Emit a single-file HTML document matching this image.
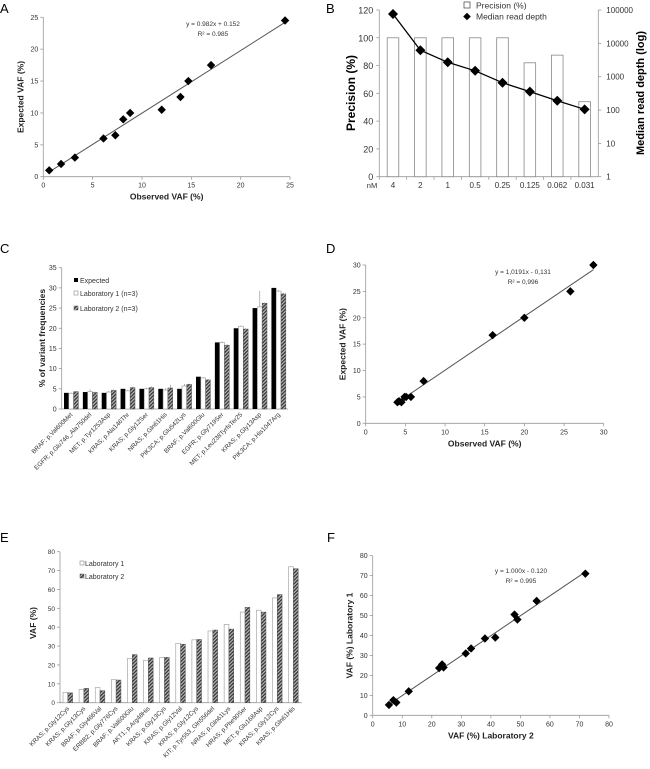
<!DOCTYPE html>
<html><head><meta charset="utf-8"><style>
html,body{margin:0;padding:0;background:#fff;}
svg{display:block;font-family:"Liberation Sans",Arial,sans-serif;}
</style></head><body>
<svg id="fig" width="650" height="769" viewBox="0 0 650 769">
<defs>
<pattern id="hatch" width="2.5" height="2.5" patternUnits="userSpaceOnUse" patternTransform="rotate(45)">
<rect width="2.5" height="2.5" fill="#bbb"/><rect width="1.3" height="2.5" fill="#333"/>
</pattern>
</defs>
</svg>
<script>
// Panel A data
const aObs = [0.6,1.8,3.2,6.1,7.3,8.1,8.8,12,13.9,14.7,17,24.5];
const aExp = [1,2,3,6,6.5,9,10,10.5,12.5,15,17.5,24.5];
const aTicks = [0,5,10,15,20,25];
// Panel B data
const bCats = ['4','2','1','0.5','0.25','0.125','0.062','0.031'];
const bPrecision = [100,100,100,100,100,82,87.5,54];
const bDepth = [76000,6200,2700,1500,660,355,190,105];
const bLeftTicks = [0,20,40,60,80,100,120];
const bRightTicks = [1,10,100,1000,10000,100000];
// Panel C data
const cCats = ['BRAF; p.Val600Met','EGFR; p.Glu746_Ala750del','MET; p.Tyr1253Asp','KRAS; p.Ala146Thr','KRAS; p.Gly12Ser','NRAS; p.Gln61His','PIK3CA; p.Glu542Lys','BRAF; p.Val600Glu','EGFR; p.Gly719Ser','MET; p.Leu238TyrfsTer25','KRAS; p.Gly13Asp','PIK3CA; p.His1047Arg'];
const cExpected = [4,4.2,4,5,5,5,5,8,16.5,20,25,30];
const cLab1 = [3.9,4.3,4.2,4.5,5,4.7,5.7,7.7,16.5,20.5,25.3,29.2];
const cLab1Err = [0.2,0.6,0.3,0.2,0.3,0.5,0.5,0.2,0.3,0.2,4,0.3];
const cLab2 = [4.3,4.1,4.6,5.3,5.3,5.2,6.1,7.2,15.8,19.8,26.2,28.5];
const cLab2Err = [0.2,0.2,0.3,0.2,0.3,0.8,0.2,0.2,0.2,0.2,0.2,0.3];
const cTicks = [0,5,10,15,20,25,30,35];
// Panel D data
const dObs = [4,4.2,4.5,4.9,5.1,5.7,7.3,16,20,25.8,28.7];
const dExp = [4,4.2,4,5,5,5,8,16.7,20,25,30];
const dTicks = [0,5,10,15,20,25,30];
// Panel E data
const eCats = ['KRAS; p.Gly12Cys','KRAS; p.Gly13Cys','BRAF; p.Gly466Val','ERBB2; p.Gly776Cys','BRAF; p.Val600Glu','AKT1; p.Arg48His','KRAS; p.Gly13Cys','KRAS; p.Gly12Val','KRAS; p.Gly12Cys','KIT; p.Tyr553_Gln556del','NRAS; p.Gln61Lys','HRAS; p.Phe90Ser','MET; p.Glu168Asp','KRAS; p.Gly12Cys','KRAS; p.Gln61His'];
const eLab1 = [5.5,7,8,12.2,23.5,22.5,24,31.5,33.3,38,41.5,48,49,55.5,72];
const eLab2 = [5.2,7.6,6.4,12,25.5,23.7,24,31,33.5,38.5,39,50.5,48,57.3,71];
const eTicks = [0,10,20,30,40,50,60,70,80];
// Panel F data
const fLab2 = [5.5,7,8,12.2,23.5,22.5,24,31.5,33.3,38,41.5,48,49,55.5,72];
const fLab1 = [5.2,7.6,6.4,12,25.5,23.7,24,31,33.5,38.5,39,50.5,48,57.3,71];
const fTicks = [0,10,20,30,40,50,60,70,80];

const svg = document.getElementById('fig');
const NS = 'http://www.w3.org/2000/svg';
function mk(tag, name, attrs, parent) {
  const el = document.createElementNS(NS, tag);
  
  
  for (const k in attrs) el.setAttribute(k, attrs[k]);
  (parent || svg).appendChild(el);
  return el;
}
function txt(name, x, y, s, attrs) {
  const el = mk('text', name, Object.assign({x: x, y: y, 'font-size': 7, fill: '#333'}, attrs || {}));
  el.textContent = s;
  return el;
}
function lin(d0, d1, r0, r1) { return v => r0 + (v - d0) / (d1 - d0) * (r1 - r0); }
function diamond(name, x, y, r) {
  mk('path', name, {d: `M${x},${y-r}L${x+r},${y}L${x},${y+r}L${x-r},${y}Z`, fill: '#000'});
}
function axes(prefix, x0, x1, y0, y1) {
  mk('line', prefix + '-x-axis', {x1: x0, y1: y0, x2: x1, y2: y0, stroke: '#999', 'stroke-width': 0.8});
  mk('line', prefix + '-y-axis', {x1: x0, y1: y0, x2: x0, y2: y1, stroke: '#999', 'stroke-width': 0.8});
}
function scatter(p, xs, ys, ticksX, ticksY, X, Y, xt, yt, eq, r2, eqx, eqy, lineFn) {
  axes(p, X(ticksX[0]), X(ticksX[ticksX.length-1]), Y(ticksY[0]), Y(ticksY[ticksY.length-1]));
  ticksX.forEach(t => {
    mk('line', p + '-x-tick', {x1: X(t), x2: X(t), y1: Y(ticksY[0]), y2: Y(ticksY[0]) + 3, stroke: '#999', 'stroke-width': 0.8});
    txt(p + '-x-tick-label', X(t), Y(ticksY[0]) + 11, t, {'text-anchor': 'middle'});
  });
  ticksY.forEach(t => {
    mk('line', p + '-y-tick', {x1: X(ticksX[0]) - 3, x2: X(ticksX[0]), y1: Y(t), y2: Y(t), stroke: '#999', 'stroke-width': 0.8});
    txt(p + '-y-tick-label', X(ticksX[0]) - 5, Y(t) + 2.5, t, {'text-anchor': 'end'});
  });
  const xmin = Math.min(...xs), xmax = Math.max(...xs);
  mk('line', p + '-trendline', {x1: X(xmin), y1: Y(lineFn(xmin)), x2: X(xmax), y2: Y(lineFn(xmax)), stroke: '#555', 'stroke-width': 1});
  xs.forEach((v, i) => diamond(p + '-point', X(v), Y(ys[i]), 4.2));
  const xc = (X(ticksX[0]) + X(ticksX[ticksX.length-1])) / 2;
  txt(p + '-x-axis-title', xc, Y(ticksY[0]) + 23, xt, {'text-anchor': 'middle', 'font-weight': 'bold', 'font-size': 8.5, fill: '#222'});
  const yc = (Y(ticksY[0]) + Y(ticksY[ticksY.length-1])) / 2;
  const yx = X(ticksX[0]) - 20;
  txt(p + '-y-axis-title', yx, yc, yt, {'text-anchor': 'middle', 'font-weight': 'bold', 'font-size': 8.5, fill: '#222', transform: `rotate(-90 ${yx} ${yc})`});
  txt(p + '-equation', eqx, eqy, eq, {'text-anchor': 'middle', 'font-size': 6.5});
  txt(p + '-r-squared', eqx, eqy + 10, r2, {'text-anchor': 'middle', 'font-size': 6.5});
}
function panelLabel(l, x, y) { txt('panel-label-' + l.toLowerCase(), x, y, l, {'font-size': 13, fill: '#000'}); }

// ---- Panel A
panelLabel('A', 0, 13);
{
  const X = lin(0, 25, 43.3, 290), Y = lin(0, 25, 176.7, 17.3);
  scatter('a', aObs, aExp, aTicks, aTicks, X, Y, 'Observed  VAF (%)', 'Expected  VAF (%)', 'y = 0.982x + 0.152', 'R² = 0.985', 213, 26, v => 0.982*v + 0.152);
}

// ---- Panel B
panelLabel('B', 326, 13);
{
  const x0 = 379.3, x1 = 598.3, bw = (x1 - x0) / bCats.length;
  const Y = lin(0, 120, 176.7, 10);
  const YL = v => 176.7 - Math.log10(v) / 5 * 166.7;
  mk('line', 'b-x-axis', {x1: x0, y1: 176.7, x2: x1, y2: 176.7, stroke: '#999', 'stroke-width': 0.8});
  mk('line', 'b-left-axis', {x1: x0, y1: 176.7, x2: x0, y2: 10, stroke: '#999', 'stroke-width': 0.8});
  mk('line', 'b-right-axis', {x1: x1, y1: 176.7, x2: x1, y2: 10, stroke: '#999', 'stroke-width': 0.8});
  bLeftTicks.forEach(t => {
    mk('line', 'b-left-tick', {x1: x0 - 3, x2: x0, y1: Y(t), y2: Y(t), stroke: '#999', 'stroke-width': 0.8});
    txt('b-left-tick-label', x0 - 6, Y(t) + 3.5, t, {'text-anchor': 'end', 'font-size': 9});
  });
  bRightTicks.forEach(t => {
    mk('line', 'b-right-tick', {x1: x1, x2: x1 + 3, y1: YL(t), y2: YL(t), stroke: '#999', 'stroke-width': 0.8});
    txt('b-right-tick-label', x1 + 8, YL(t) + 3, t, {'font-size': 8});
  });
  bCats.forEach((c, i) => {
    const cx = x0 + bw * (i + 0.5);
    mk('line', 'b-x-tick', {x1: x0 + bw * i, x2: x0 + bw * i, y1: 176.7, y2: 179.7, stroke: '#999', 'stroke-width': 0.8});
    mk('rect', 'b-precision-bar', {x: cx - 5.8, y: Y(bPrecision[i]), width: 11.6, height: 176.7 - Y(bPrecision[i]), fill: '#fff', stroke: '#888', 'stroke-width': 0.8});
    txt('b-x-tick-label', cx, 188, c, {'text-anchor': 'middle', 'font-size': 8});
  });
  txt('b-nm-label', 372, 188, 'nM', {'text-anchor': 'middle', 'font-size': 7.5});
  const pts = bDepth.map((d, i) => (x0 + bw * (i + 0.5)) + ',' + YL(d)).join(' ');
  mk('polyline', 'b-depth-line', {points: pts, fill: 'none', stroke: '#000', 'stroke-width': 1.3});
  bDepth.forEach((d, i) => diamond('b-depth-point', x0 + bw * (i + 0.5), YL(d), 5));
  mk('rect', 'b-legend-precision-swatch', {x: 464, y: 2, width: 6, height: 6, fill: '#fff', stroke: '#555', 'stroke-width': 0.8});
  txt('b-legend-precision-label', 476, 8.5, 'Precision (%)', {'font-size': 8.5});
  diamond('b-legend-depth-marker', 467, 16.5, 3.8);
  txt('b-legend-depth-label', 476, 19.5, 'Median read depth', {'font-size': 8.5});
  txt('b-left-axis-title', 355, 93, 'Precision (%)', {'text-anchor': 'middle', 'font-weight': 'bold', 'font-size': 12, fill: '#000', transform: 'rotate(-90 355 93)'});
  txt('b-right-axis-title', 644, 93, 'Median read depth (log)', {'text-anchor': 'middle', 'font-weight': 'bold', 'font-size': 11, fill: '#000', transform: 'rotate(-90 644 93)'});
}

// ---- Panel C
panelLabel('C', 0, 253);
{
  const x0 = 61.7, x1 = 288, bw = (x1 - x0) / cCats.length;
  const Y = lin(0, 35, 409, 267.7);
  mk('line', 'c-x-axis', {x1: x0, y1: 409, x2: x1, y2: 409, stroke: '#999', 'stroke-width': 0.8});
  mk('line', 'c-y-axis', {x1: x0, y1: 409, x2: x0, y2: 267.7, stroke: '#999', 'stroke-width': 0.8});
  cTicks.forEach(t => {
    mk('line', 'c-y-tick', {x1: x0 - 3, x2: x0, y1: Y(t), y2: Y(t), stroke: '#999', 'stroke-width': 0.8});
    txt('c-y-tick-label', x0 - 5, Y(t) + 2.5, t, {'text-anchor': 'end'});
  });
  cCats.forEach((c, i) => {
    const s = x0 + bw * i + 2.3;
    mk('rect', 'c-expected-bar', {x: s, y: Y(cExpected[i]), width: 4.8, height: 409 - Y(cExpected[i]), fill: '#000'});
    mk('rect', 'c-lab1-bar', {x: s + 4.8, y: Y(cLab1[i]), width: 4.8, height: 409 - Y(cLab1[i]), fill: '#fff', stroke: '#999', 'stroke-width': 0.6});
    mk('rect', 'c-lab2-bar', {x: s + 9.6, y: Y(cLab2[i]), width: 4.8, height: 409 - Y(cLab2[i]), fill: 'url(#hatch)', stroke: '#555', 'stroke-width': 0.5});
    mk('line', 'c-lab1-error', {x1: s + 7.2, x2: s + 7.2, y1: Y(cLab1[i]), y2: Y(cLab1[i] + cLab1Err[i]), stroke: '#888', 'stroke-width': 0.6});
    mk('line', 'c-lab2-error', {x1: s + 12, x2: s + 12, y1: Y(cLab2[i]), y2: Y(cLab2[i] + cLab2Err[i]), stroke: '#888', 'stroke-width': 0.6});
    const lx = x0 + bw * (i + 0.6), ly = 415;
    txt('c-x-tick-label', lx, ly, c, {'text-anchor': 'end', 'font-size': 6.3, transform: `rotate(-45 ${lx} ${ly})`});
  });
  mk('rect', 'c-legend-expected-swatch', {x: 74, y: 278, width: 4, height: 4, fill: '#000'});
  txt('c-legend-expected-label', 80, 283, 'Expected', {'font-size': 7});
  mk('rect', 'c-legend-lab1-swatch', {x: 74, y: 291, width: 4, height: 4, fill: '#fff', stroke: '#888', 'stroke-width': 0.6});
  txt('c-legend-lab1-label', 80, 296, 'Laboratory 1 (n=3)', {'font-size': 7});
  mk('rect', 'c-legend-lab2-swatch', {x: 74, y: 306, width: 4, height: 4, fill: 'url(#hatch)', stroke: '#555', 'stroke-width': 0.5});
  txt('c-legend-lab2-label', 80, 311, 'Laboratory 2 (n=3)', {'font-size': 7});
  txt('c-y-axis-title', 45, 338, '% of variant frequencies', {'text-anchor': 'middle', 'font-weight': 'bold', 'font-size': 8.5, fill: '#222', transform: 'rotate(-90 45 338)'});
}

// ---- Panel D
panelLabel('D', 326, 253);
{
  const X = lin(0, 30, 365.7, 603.7), Y = lin(0, 30, 423.3, 265);
  scatter('d', dObs, dExp, dTicks, dTicks, X, Y, 'Observed VAF (%)', 'Expected VAF (%)', 'y = 1,0191x - 0,131', 'R² = 0,996', 523, 274, v => 1.0191*v - 0.131);
}

// ---- Panel E
panelLabel('E', 0, 542);
{
  const x0 = 60, x1 = 301.7, bw = (x1 - x0) / eCats.length;
  const Y = lin(0, 80, 702.7, 551.7);
  mk('line', 'e-x-axis', {x1: x0, y1: 702.7, x2: x1, y2: 702.7, stroke: '#999', 'stroke-width': 0.8});
  mk('line', 'e-y-axis', {x1: x0, y1: 702.7, x2: x0, y2: 551.7, stroke: '#999', 'stroke-width': 0.8});
  eTicks.forEach(t => {
    mk('line', 'e-y-tick', {x1: x0 - 3, x2: x0, y1: Y(t), y2: Y(t), stroke: '#999', 'stroke-width': 0.8});
    txt('e-y-tick-label', x0 - 5, Y(t) + 2.5, t, {'text-anchor': 'end', 'font-size': 6.5});
  });
  eCats.forEach((c, i) => {
    const s = x0 + bw * i + 3;
    mk('rect', 'e-lab1-bar', {x: s, y: Y(eLab1[i]), width: 4.8, height: 702.7 - Y(eLab1[i]), fill: '#fff', stroke: '#999', 'stroke-width': 0.6});
    mk('rect', 'e-lab2-bar', {x: s + 4.8, y: Y(eLab2[i]), width: 4.8, height: 702.7 - Y(eLab2[i]), fill: 'url(#hatch)', stroke: '#555', 'stroke-width': 0.5});
    const lx = x0 + bw * (i + 0.6), ly = 709;
    txt('e-x-tick-label', lx, ly, c, {'text-anchor': 'end', 'font-size': 6.3, transform: `rotate(-45 ${lx} ${ly})`});
  });
  mk('rect', 'e-legend-lab1-swatch', {x: 80, y: 561, width: 4, height: 4, fill: '#fff', stroke: '#888', 'stroke-width': 0.6});
  txt('e-legend-lab1-label', 85, 566, 'Laboratory 1', {'font-size': 7});
  mk('rect', 'e-legend-lab2-swatch', {x: 80, y: 574, width: 4, height: 4, fill: 'url(#hatch)', stroke: '#555', 'stroke-width': 0.5});
  txt('e-legend-lab2-label', 85, 579, 'Laboratory 2', {'font-size': 7});
  txt('e-y-axis-title', 36, 623, 'VAF (%)', {'text-anchor': 'middle', 'font-weight': 'bold', 'font-size': 8.5, fill: '#222', transform: 'rotate(-90 36 623)'});
}

// ---- Panel F
panelLabel('F', 327, 542);
{
  const X = lin(0, 80, 372.7, 609), Y = lin(0, 80, 715.3, 555.7);
  scatter('f', fLab2, fLab1, fTicks, fTicks, X, Y, 'VAF (%) Laboratory 2', 'VAF (%) Laboratory 1', 'y = 1.000x - 0.120', 'R² = 0.995', 521, 573, v => 1.000*v - 0.120);
}
</script>
</body></html>
